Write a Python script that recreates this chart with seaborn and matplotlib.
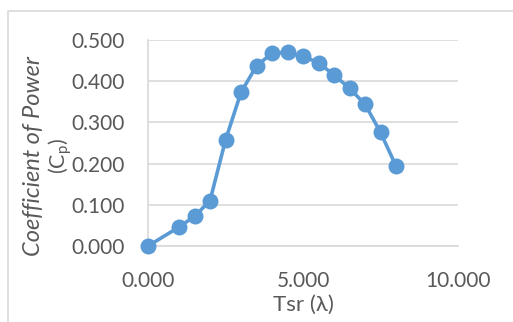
import numpy as np
import pandas as pd
import matplotlib
matplotlib.use("Agg")
import matplotlib.pyplot as plt
from matplotlib.patches import Rectangle
import seaborn as sns

# tip speed ratio vs power coefficient
tsr = [0.0, 1.0, 1.5, 2.0, 2.5, 3.0, 3.5, 4.0, 4.5, 5.0, 5.5, 6.0, 6.5, 7.0, 7.5, 8.0]
cp = [0.000, 0.046, 0.072, 0.110, 0.257, 0.373, 0.437, 0.468, 0.470, 0.460,
      0.445, 0.415, 0.383, 0.344, 0.276, 0.194]
xticks = [0, 5, 10]
yticks = [0.0, 0.1, 0.2, 0.3, 0.4, 0.5]

blue = "#5B9BD5"
grey_txt = "#595959"
grid = "#D9D9D9"

sns.set_style("white")
plt.rcParams['font.family'] = ['Lato', 'DejaVu Sans']
plt.rcParams['mathtext.fontset'] = 'custom'
plt.rcParams['mathtext.rm'] = 'Lato'

df = pd.DataFrame({"Tsr": tsr, "Cp": cp})

fig = plt.figure(figsize=(5.13, 3.22), dpi=100)
ax = fig.add_axes([148/513, 1-246/322, (458-148)/513, (246-40)/322])

sns.lineplot(data=df, x="Tsr", y="Cp", ax=ax, color=blue, lw=2.6,
             marker="o", markersize=11.5, markeredgewidth=0, clip_on=False, zorder=3)

ax.set_xlim(0, 10)
ax.set_ylim(0, 0.5)
ax.set_xticks(xticks)
ax.set_yticks(yticks)
ax.set_xticklabels([f"{v:.3f}" for v in xticks])
ax.set_yticklabels([f"{v:.3f}" for v in yticks])
ax.tick_params(length=0, labelsize=15, labelcolor=grey_txt)
ax.tick_params(axis='y', pad=17)
ax.tick_params(axis='x', pad=18)
ax.yaxis.grid(True, color=grid, lw=1.2)
ax.xaxis.grid(False)
for s in ['top', 'right']:
    ax.spines[s].set_visible(False)
for s in ['left', 'bottom']:
    ax.spines[s].set_color(grid)
    ax.spines[s].set_linewidth(1.2)
ax.set_xlabel("")
ax.set_ylabel("")

fig.text(303/513, 1-305/322, "Tsr (λ)", ha='center', va='center',
         fontsize=16, color=grey_txt)
fig.text(34/513, 1-156/322, "Coefficient of Power", rotation=90, ha='center',
         va='center', fontsize=17, style='italic', color=grey_txt)
fig.text(60/513, 1-156/322, r"(C$_\mathregular{p}$)", rotation=90, ha='center',
         va='center', fontsize=15.5, color=grey_txt)

# chart frame
fig.patches.append(Rectangle((8/513, -0.1), 1.2, 1-11/322+0.1, transform=fig.transFigure,
                             fill=False, edgecolor=grid, lw=1.2))

fig.savefig("out.png", dpi=100)
